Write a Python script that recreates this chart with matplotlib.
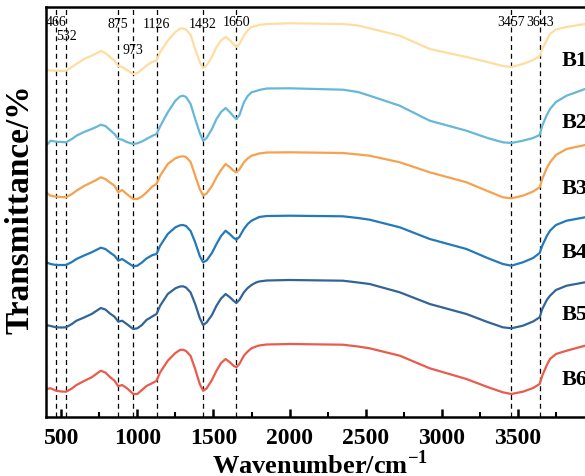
import matplotlib
matplotlib.use("Agg")
import matplotlib.pyplot as plt
from matplotlib.ticker import MultipleLocator

plt.rcParams['font.family'] = ['Liberation Serif', 'DejaVu Serif']
plt.rcParams['mathtext.fontset'] = 'custom'
plt.rcParams['mathtext.rm'] = 'Liberation Serif'
plt.rcParams['mathtext.bf'] = 'Liberation Serif:bold'

# wavenumbers (cm-1)
wn = [400, 430, 466, 500, 532, 570, 600, 650, 700, 730,
      760, 790, 820, 850, 875, 900, 930, 973, 1000, 1030,
      1060, 1100, 1126, 1150, 1200, 1250, 1280, 1300, 1320, 1350,
      1380, 1410, 1432, 1455, 1490, 1520, 1550, 1580, 1610, 1630,
      1650, 1670, 1700, 1725, 1750, 1780, 1800, 1850, 2000, 2350,
      2450, 2526, 2724, 2921, 3162, 3300, 3401, 3457, 3533, 3600,
      3643, 3660, 3690, 3711, 3750, 3820, 3941, 4000]

# transmittance (arbitrary units, curves stacked)
b1 = [347, 346.5, 346.3, 346, 346.3, 350, 353, 358, 361.3, 363.5,
      366, 364, 360, 356.3, 351, 350, 347, 343, 344, 347.5,
      351.5, 355.3, 356.3, 365, 376.3, 385, 388.3, 388.7, 387.5, 382,
      368, 355, 349, 351.5, 360, 370, 376.5, 380, 376.5, 373,
      370, 373, 381.3, 386.5, 390, 391, 392, 393, 393.7, 393,
      391.5, 388.7, 381.3, 368, 360, 355, 351, 350, 353, 357,
      361, 368, 377, 383, 387.5, 390, 393, 393.5]
b2 = [271.3, 276.3, 275.3, 275, 274.7, 278, 281.3, 285, 288, 290,
      292.3, 291, 287, 283, 278, 277.3, 275, 273, 273.7, 275.5,
      278, 281.3, 283, 290.7, 304.7, 316.3, 320.5, 321.3, 320, 313,
      298, 284, 276.3, 279, 288, 298, 305, 309, 304.5, 301,
      298, 301.5, 314.7, 321, 324.7, 326, 327, 328.5, 328.7, 327.3,
      325, 321.3, 311.3, 296.3, 286.3, 279, 274.7, 274, 276.3, 279,
      282, 291.3, 302, 308, 315, 321.3, 328, 330]
b3 = [224.7, 221.3, 220.3, 220, 219.7, 223, 226.3, 231, 234.7, 237,
      239.7, 238, 234.5, 231.3, 224.7, 227, 223, 218, 218, 220.5,
      224.5, 230.7, 233, 241.3, 253, 258.7, 260.3, 260.7, 260, 255,
      241.3, 228, 221.3, 223.5, 231, 239.7, 247, 253, 249.5, 246.5,
      244.7, 247.5, 254.7, 258.5, 261.3, 262.5, 263.5, 264.5, 264.7, 264,
      262.5, 261.3, 254.7, 244.7, 234.7, 226, 219.7, 218.7, 221.3, 225.5,
      229.7, 238, 249, 254.7, 262, 268, 272, 273]
b4 = [154.7, 153, 152, 152, 152, 155, 158, 161.5, 164.7, 167,
      169.3, 168, 164.5, 161.3, 156.3, 158, 155, 150.7, 151.3, 154.5,
      158.5, 162, 163, 171.3, 183, 189.7, 191.7, 192, 191, 186,
      174.7, 161, 154.7, 156.5, 164, 173, 181, 186.3, 182.5, 179.5,
      177.3, 180, 188, 193, 196.3, 198.5, 200, 201, 201.3, 200.7,
      199, 197.3, 189.7, 178, 168, 159, 153, 151.3, 154.7, 159,
      164, 171.3, 181, 186.3, 192, 196.3, 199.7, 201]
b5 = [92, 91, 89.7, 89.5, 89.7, 93, 96.3, 99.5, 103, 106,
      109, 107.5, 103.5, 100.3, 95.3, 96.3, 93, 88, 88.7, 92,
      97, 100.7, 103, 111.3, 123, 128.7, 130.5, 130.7, 129.5, 124.5,
      113, 99, 92, 94.5, 102, 111.3, 118.5, 123, 119.5, 116.5,
      114, 117, 124.7, 129, 132, 134.5, 135.5, 136.5, 137, 136.3,
      134.5, 133, 124.7, 113, 103, 95, 89.7, 88.7, 91.3, 95.5,
      99.7, 108, 117, 121.3, 127, 131.3, 134.7, 136]
b6 = [28, 28.7, 26.3, 25.5, 25.3, 28.5, 32, 36, 39.7, 43,
      46.3, 44.5, 40, 36.3, 30.7, 32, 29, 23, 23, 27,
      31, 34, 36.3, 44.7, 56.3, 64, 67, 67.3, 66, 61,
      48, 33, 26.3, 28.5, 37, 46.3, 54, 58, 54.5, 51.5,
      49.7, 53, 61.3, 65.5, 68.7, 70.5, 71.5, 72.5, 73, 72.3,
      70.5, 68.7, 61.3, 48.7, 38, 30, 24.7, 23, 25.3, 29,
      33, 41.3, 52, 58, 63, 66.3, 71.3, 73]

names = ['B1', 'B2', 'B3', 'B4', 'B5', 'B6']
series = [b1, b2, b3, b4, b5, b6]
colors = ['#FEDDA0', '#66B8D6', '#F5A24F', '#2479B8', '#336497', '#E95B4C']
name_y = [357, 295, 229, 165, 103, 38]

peaks = [466, 532, 875, 973, 1126, 1432, 1650, 3457, 3643]
peak_y = [396, 382, 393, 367, 393, 393, 395, 395, 395]

fig = plt.figure(figsize=(5.85, 4.77), dpi=100)
ax = fig.add_axes([46/585, 59/477, 548/585, 410/477])

for p in peaks:
    ax.axvline(p, color='black', lw=0.9, ls=(0, (4, 3)), zorder=1)

for s, c in zip(series, colors):
    ax.plot(wn, s, color=c, lw=1.6, zorder=2)

for p, py in zip(peaks, peak_y):
    ax.text(p, py, str(p), ha='center', va='center', fontsize=10, zorder=3)

for n, ny in zip(names, name_y):
    ax.text(3790, ny, n, ha='left', va='center', fontsize=16, fontweight='bold')

ax.set_xlim(400, 4000)
ax.set_ylim(0, 410)
ax.set_xticks(range(500, 4000, 500))
ax.xaxis.set_minor_locator(MultipleLocator(250))
ax.tick_params(axis='x', which='major', direction='in', length=6, width=1.8,
               labelsize=17, pad=7)
ax.tick_params(axis='x', which='minor', direction='in', length=3.5, width=1.5)
for lab in ax.get_xticklabels():
    lab.set_fontweight('bold')
ax.set_yticks([])
for sp in ax.spines.values():
    sp.set_linewidth(1.8)

ax.set_xlabel(r'Wavenumber/cm$^{\mathbf{-1}}$', fontsize=19, fontweight='bold', labelpad=1)
ax.set_ylabel('Transmittance/%', fontsize=24, fontweight='bold')
ax.yaxis.set_label_coords(-0.02, 0.51)

fig.savefig('out.png', dpi=100)
